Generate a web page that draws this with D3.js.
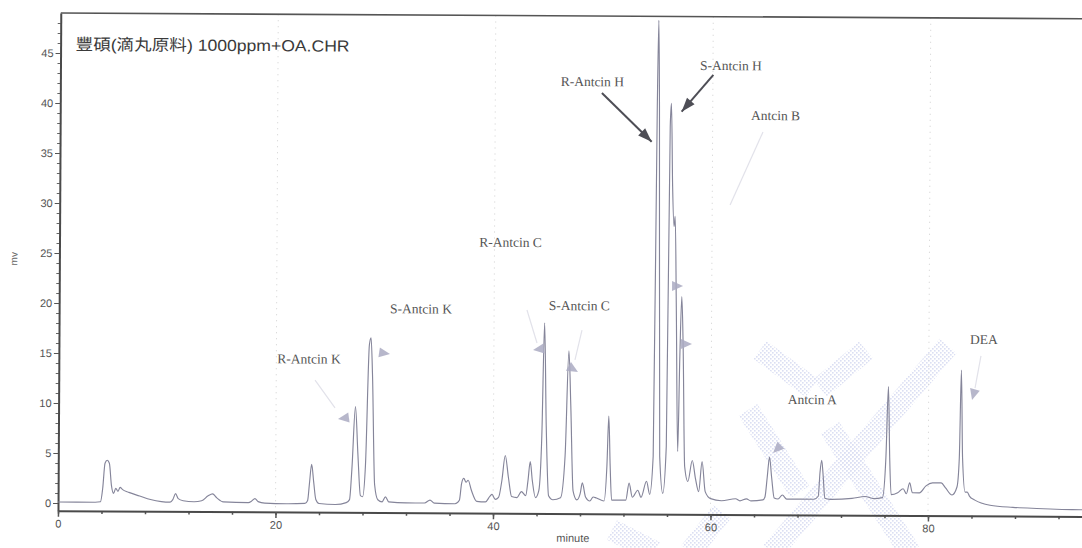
<!DOCTYPE html>
<html><head><meta charset="utf-8">
<script src="https://cdn.jsdelivr.net/npm/d3@7"></script>
<style>html,body{margin:0;padding:0;background:#fff;overflow:hidden}</style>
</head><body><svg id="c" width="1082" height="548"></svg>
<script>
// ---- data (minute, mV) ----
const traceTime = [0,3.4,3.9,4.1,4.3,4.5,4.7,4.9,5.1,5.3,5.5,5.7,5.9,6.5,7.5,8.5,9.5,10.3,10.55,10.8,11.05,11.5,12.5,13.2,13.8,14.2,14.6,15.2,17.5,17.8,18.1,18.4,19.0,21.0,22.7,22.95,23.1,23.3,23.5,23.7,24.0,25.5,26.5,26.8,27.0,27.3,27.55,27.8,28.0,28.25,28.55,28.7,28.85,29.1,29.4,29.8,30.1,30.4,32.0,33.7,34.2,34.6,36.5,36.9,37.1,37.3,37.5,37.7,38.0,38.5,39.3,39.7,39.9,40.2,40.5,40.8,41.1,41.4,41.7,42.2,42.6,43.0,43.2,43.4,43.6,43.9,44.2,44.45,44.65,44.85,45.1,45.5,46.2,46.6,46.9,47.1,47.35,47.7,48.0,48.2,48.5,48.9,49.2,49.5,50.2,50.45,50.6,50.75,50.9,52.2,52.5,52.8,53.3,53.6,54.1,54.4,54.7,54.9,55.0,55.1,55.3,55.6,55.9,56.1,56.2,56.35,56.5,56.6,56.75,56.95,57.1,57.25,57.4,57.6,57.9,58.3,58.6,58.9,59.2,59.5,60.0,61.0,62.3,62.7,63.3,63.7,64.8,65.0,65.2,65.4,65.6,65.85,66.2,66.6,67.0,69.5,69.9,70.05,70.2,70.35,70.5,71.0,73.0,74.2,75.0,75.8,76.1,76.3,76.45,76.6,77.2,77.7,78.0,78.3,78.55,79.2,79.8,80.4,81.2,81.6,82.2,82.65,82.85,83.0,83.15,83.4,83.6,83.8,84.3,85.7,87.8,90.0,94.0,96.0];
const traceMv   = [0.1,0.1,0.15,1.5,4.0,4.3,4.0,1.8,1.0,1.5,1.2,1.6,1.4,1.1,0.75,0.4,0.2,0.15,0.4,1.0,0.5,0.3,0.2,0.3,0.8,1.0,0.6,0.2,0.15,0.3,0.55,0.25,0.1,0.05,0.1,0.4,2.0,4.0,2.2,0.5,0.1,0.0,0.2,0.5,3.5,9.8,5.0,0.9,0.8,4.0,16.0,16.7,13.0,2.0,0.5,0.3,0.8,0.3,0.2,0.2,0.5,0.2,0.15,0.5,2.2,2.7,2.3,2.5,1.5,0.4,0.35,0.9,1.1,0.6,0.8,2.5,5.0,2.8,0.9,0.8,1.4,1.0,2.5,4.4,2.5,0.8,1.5,7.0,18.3,8.0,1.0,0.6,0.8,5.0,15.5,10.0,1.5,0.6,1.2,2.3,0.9,0.5,0.9,0.8,0.5,4.0,9.0,4.0,0.6,0.6,2.3,0.9,1.6,0.9,2.5,1.2,5.0,40.0,48.6,40.0,5.0,1.3,6.0,38.0,40.3,32.0,28.0,29.0,20.0,5.5,15.0,21.0,16.0,4.0,2.5,4.6,2.8,1.5,4.5,1.5,0.8,0.6,0.8,0.6,0.8,0.6,0.7,1.0,3.0,5.0,3.0,0.9,0.8,1.2,0.8,0.8,1.1,3.5,4.7,3.0,0.9,0.8,0.9,1.1,0.9,1.0,5.0,12.1,5.0,1.3,1.5,1.9,1.4,2.5,1.5,1.5,2.2,2.5,2.5,2.0,1.3,2.1,5.0,13.8,5.0,1.6,1.6,1.2,0.8,0.3,0.1,0.0,-0.1,-0.1];

const xMajorTicks = [0,20,40,60,80];
const xMinorTicks = d3.range(0,97,4);
const yMajorTicks = [0,5,10,15,20,25,30,35,40,45];
const yMinorTicks = d3.range(0,49,1);

const titleText = "豐碩(滴丸原料) 1000ppm+OA.CHR";
const xTitle = "minute";
const yTitle = "mv";

// peak labels (anchor in minute / mV)
const peakNames = ["R-Antcin K","S-Antcin K","R-Antcin C","S-Antcin C","R-Antcin H","S-Antcin H","Antcin B","Antcin A","DEA"];
const labelTime = [20.09,30.43,38.6,45.02,46.0,58.8,63.52,67.04,83.78];
const labelMv   = [14.09,19.16,25.87,19.57,41.98,43.66,38.69,10.31,16.41];

// dark arrows (R-Antcin H, S-Antcin H)
const arrowFromTime = [49.8,60.04];
const arrowFromMv   = [41.3,43.17];
const arrowToTime   = [54.4,57.14];
const arrowToMv     = [36.46,39.48];

// faint pointer triangles
const triTime  = [25.70,30.45,43.60,47.74,57.36,58.21,65.72,83.99];
const triMv    = [8.56,15.09,15.57,13.4,22.05,16.26,5.40,10.81];
const triAngle = [172,8,172,30,0,0,135,105];

// faint leader lines
const leadFromTime = [23.57,43.02,48.09,64.63,84.79];
const leadFromMv   = [12.44,19.56,17.59,37.5,15.22];
const leadToTime   = [25.42,43.96,47.46,61.64,84.26];
const leadToMv     = [9.66,16.27,14.59,30.18,12.01];

// ---- drawing ----
const svg = d3.select('#c');
const defs = svg.append('defs');
const pat = defs.append('pattern').attr('id','hatch').attr('width',4).attr('height',4).attr('patternUnits','userSpaceOnUse');
pat.append('rect').attr('x',0).attr('y',0).attr('width',1.6).attr('height',1.6).attr('fill','#b8c0e8');
pat.append('rect').attr('x',2).attr('y',2).attr('width',1.6).attr('height',1.6).attr('fill','#b8c0e8');

// scanned watermark bands (decorative)
const bands = [[760,350,812,388],[866,350,820,388],[948,346,772,552],[748,410,800,492],[830,428,910,552],[690,552,722,512],[612,530,655,552]];
svg.append('g').attr('opacity',0.5).selectAll('line').data(bands).join('line')
  .attr('x1',d=>d[0]).attr('y1',d=>d[1]).attr('x2',d=>d[2]).attr('y2',d=>d[3])
  .attr('stroke','url(#hatch)').attr('stroke-width',22);

const x = d3.scaleLinear().domain([0,96]).range([58,1102]);
const y = d3.scaleLinear().domain([-0.77,49]).range([510.7,13]);

const g = svg.append('g').attr('transform','rotate(0.32,58,511)');

defs.append('clipPath').attr('id','plotclip').append('rect')
  .attr('x',58).attr('y',12).attr('width',1100).attr('height',500);

// dotted gridlines
g.append('g').selectAll('line').data(xMajorTicks.slice(1)).join('line')
  .attr('x1',d=>x(d)).attr('x2',d=>x(d)).attr('y1',y(49)).attr('y2',y(-0.77))
  .attr('stroke','#cfcfcf').attr('stroke-width',1).attr('stroke-dasharray','1,5');

// top frame
g.append('line').attr('x1',x(0)).attr('x2',x(96)).attr('y1',y(49)).attr('y2',y(49))
  .attr('stroke','#555').attr('stroke-width',1.6);

// axes
const fontAx = '"Liberation Sans", Arial, sans-serif';
const yMin = g.append('g').attr('transform',`translate(${x(0)},0)`)
  .call(d3.axisLeft(y).tickValues(yMinorTicks).tickSize(3).tickFormat('').tickSizeOuter(0));
yMin.select('.domain').remove();
yMin.selectAll('line').attr('stroke','#666');
const yAx = g.append('g').attr('transform',`translate(${x(0)},0)`)
  .call(d3.axisLeft(y).tickValues(yMajorTicks).tickSize(5).tickPadding(2).tickSizeOuter(0));
yAx.select('.domain').attr('stroke','#4a4a4a').attr('stroke-width',2);
yAx.selectAll('line').attr('stroke','#555');
yAx.selectAll('text').attr('font-family',fontAx).attr('font-size',11).attr('fill','#555');

const xMin = g.append('g').attr('transform',`translate(0,${y(-0.77)})`)
  .call(d3.axisBottom(x).tickValues(xMinorTicks).tickSize(3).tickFormat('').tickSizeOuter(0));
xMin.select('.domain').remove();
xMin.selectAll('line').attr('stroke','#555').attr('stroke-width',1.5);
const xAx = g.append('g').attr('transform',`translate(0,${y(-0.77)})`)
  .call(d3.axisBottom(x).tickValues(xMajorTicks).tickSize(6).tickPadding(3).tickSizeOuter(0));
xAx.select('.domain').attr('stroke','#4a4a4a').attr('stroke-width',2);
xAx.selectAll('line').attr('stroke','#555').attr('stroke-width',1.5);
xAx.selectAll('text').attr('font-family',fontAx).attr('font-size',11).attr('fill','#555');

// axis titles
g.append('text').attr('x',573).attr('y',539).attr('text-anchor','middle')
  .attr('font-family',fontAx).attr('font-size',11).attr('fill','#555').text(xTitle);
g.append('text').attr('transform','translate(16,259) rotate(-90)').attr('text-anchor','middle')
  .attr('font-family',fontAx).attr('font-size',10).attr('fill','#666').text(yTitle);

// title
g.append('text').attr('x',73).attr('y',50)
  .attr('font-family','"Liberation Sans","Noto Sans CJK TC",sans-serif').attr('font-size',16)
  .attr('fill','#3a3a3a').attr('textLength',274).attr('lengthAdjust','spacingAndGlyphs').text(titleText);

// trace
const pts = traceTime.map((t,i)=>[t,traceMv[i]]);
g.append('path').datum(pts).attr('clip-path','url(#plotclip)')
  .attr('fill','none').attr('stroke','#85859a').attr('stroke-width',1.15)
  .attr('d', d3.line().x(d=>x(d[0])).y(d=>y(d[1])).curve(d3.curveMonotoneX));

// faint leader lines
g.append('g').selectAll('line').data(leadFromTime).join('line')
  .attr('x1',(d,i)=>x(d)).attr('y1',(d,i)=>y(leadFromMv[i]))
  .attr('x2',(d,i)=>x(leadToTime[i])).attr('y2',(d,i)=>y(leadToMv[i]))
  .attr('stroke','#e2e2ea').attr('stroke-width',1.2);

// faint triangles
function triPts(px,py,ang,len,wid){
  const a = ang*Math.PI/180, c=Math.cos(a), s=Math.sin(a);
  const p = [[0,0],[-len,-wid/2],[-len,wid/2]];
  return p.map(([u,v])=>[px+u*c-v*s, py+u*s+v*c].join(',')).join(' ');
}
g.append('g').selectAll('polygon').data(triTime).join('polygon')
  .attr('points',(d,i)=>triPts(x(d),y(triMv[i]),triAngle[i],11,10))
  .attr('fill','#aaaac2').attr('opacity',0.85);

// dark arrows
g.append('g').selectAll('line').data(arrowFromTime).join('line')
  .attr('x1',(d,i)=>x(d)).attr('y1',(d,i)=>y(arrowFromMv[i]))
  .attr('x2',(d,i)=>x(arrowToTime[i])).attr('y2',(d,i)=>y(arrowToMv[i]))
  .attr('stroke','#4e4e56').attr('stroke-width',2);
g.append('g').selectAll('polygon').data(arrowFromTime).join('polygon')
  .attr('points',(d,i)=>{
    const x1=x(d), y1=y(arrowFromMv[i]), x2=x(arrowToTime[i]), y2=y(arrowToMv[i]);
    const ang = Math.atan2(y2-y1,x2-x1)*180/Math.PI;
    return triPts(x2,y2,ang,14,10);
  })
  .attr('fill','#4e4e56');

// peak labels
g.append('g').selectAll('text').data(peakNames).join('text')
  .attr('x',(d,i)=>x(labelTime[i])).attr('y',(d,i)=>y(labelMv[i]))
  .attr('font-family','"Liberation Serif","Times New Roman",serif').attr('font-size',13.5)
  .attr('fill','#555').text(d=>d);
</script>
</body></html>
